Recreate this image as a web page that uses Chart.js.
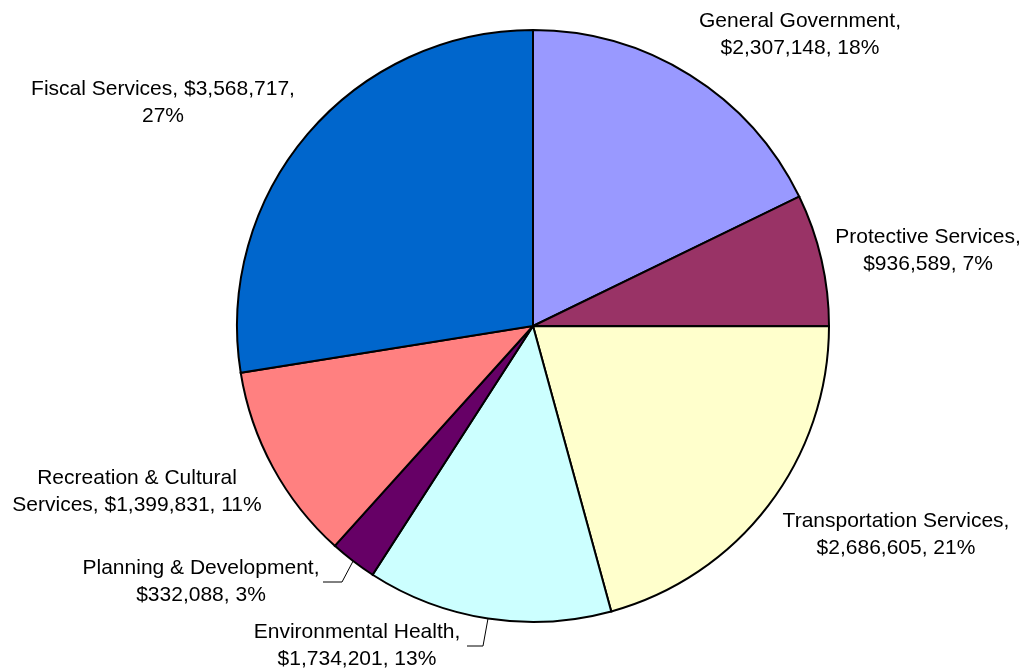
<!DOCTYPE html>
<html>
<head>
<meta charset="utf-8">
<script src="https://cdn.jsdelivr.net/npm/chart.js@4"></script>
<style>
html,body{margin:0;padding:0;background:#fff;}
#wrap{width:1024px;height:672px;position:relative;}
</style>
</head>
<body>
<div id="wrap"><canvas id="c" width="1024" height="672"></canvas></div>
<script>
const categories = ["General Government","Protective Services","Transportation Services","Environmental Health","Planning & Development","Recreation & Cultural Services","Fiscal Services"];
const amounts = [2307148, 936589, 2686605, 1734201, 332088, 1399831, 3568717];
const sliceColors = ["#9999FF","#993366","#FFFFCC","#CCFFFF","#660066","#FF8080","#0066CC"];
const labelLines = [
  ["General Government,", "$2,307,148, 18%"],
  ["Protective Services,", "$936,589, 7%"],
  ["Transportation Services,", "$2,686,605, 21%"],
  ["Environmental Health,", "$1,734,201, 13%"],
  ["Planning & Development,", "$332,088, 3%"],
  ["Recreation & Cultural", "Services, $1,399,831, 11%"],
  ["Fiscal Services, $3,568,717,", "27%"]
];

// label layout (centre of first line), and optional leader elbow
const labelPos = [
  {x:800, y:21},
  {x:928, y:237},
  {x:896, y:521},
  {x:357, y:632, leader:[[467,646],[483,646]]},
  {x:201, y:568, leader:[[323,582],[342,582]]},
  {x:137, y:478},
  {x:163, y:89}
];

const labelPlugin = {
  id:'pieLabels',
  afterDraw(chart){
    const ctx = chart.ctx;
    const meta = chart.getDatasetMeta(0);
    ctx.save();
    ctx.font = '21px "Liberation Sans", Arial, sans-serif';
    ctx.fillStyle = '#000';
    ctx.textAlign = 'center';
    ctx.textBaseline = 'middle';
    meta.data.forEach((arc, i) => {
      const p = labelPos[i];
      const lines = labelLines[i];
      lines.forEach((t, k) => ctx.fillText(t, p.x, p.y + k*27));
      if (p.leader) {
        const mid = (arc.startAngle + arc.endAngle)/2;
        const ex = arc.x + Math.cos(mid)*arc.outerRadius;
        const ey = arc.y + Math.sin(mid)*arc.outerRadius;
        ctx.beginPath();
        ctx.strokeStyle = '#000';
        ctx.lineWidth = 1;
        ctx.moveTo(p.leader[0][0], p.leader[0][1]);
        ctx.lineTo(p.leader[1][0], p.leader[1][1]);
        ctx.lineTo(ex, ey);
        ctx.stroke();
      }
    });
    ctx.restore();
  }
};

new Chart(document.getElementById('c'), {
  type:'pie',
  data:{
    labels:categories,
    datasets:[{
      data:amounts,
      backgroundColor:sliceColors,
      borderColor:'#000',
      borderWidth:2,
      borderJoinStyle:'miter'
    }]
  },
  options:{
    responsive:false,
    devicePixelRatio:1,
    animation:false,
    radius:296,
    layout:{padding:{left:42,right:0,top:0,bottom:20}},
    plugins:{legend:{display:false},tooltip:{enabled:false}}
  },
  plugins:[labelPlugin]
});
</script>
</body>
</html>
